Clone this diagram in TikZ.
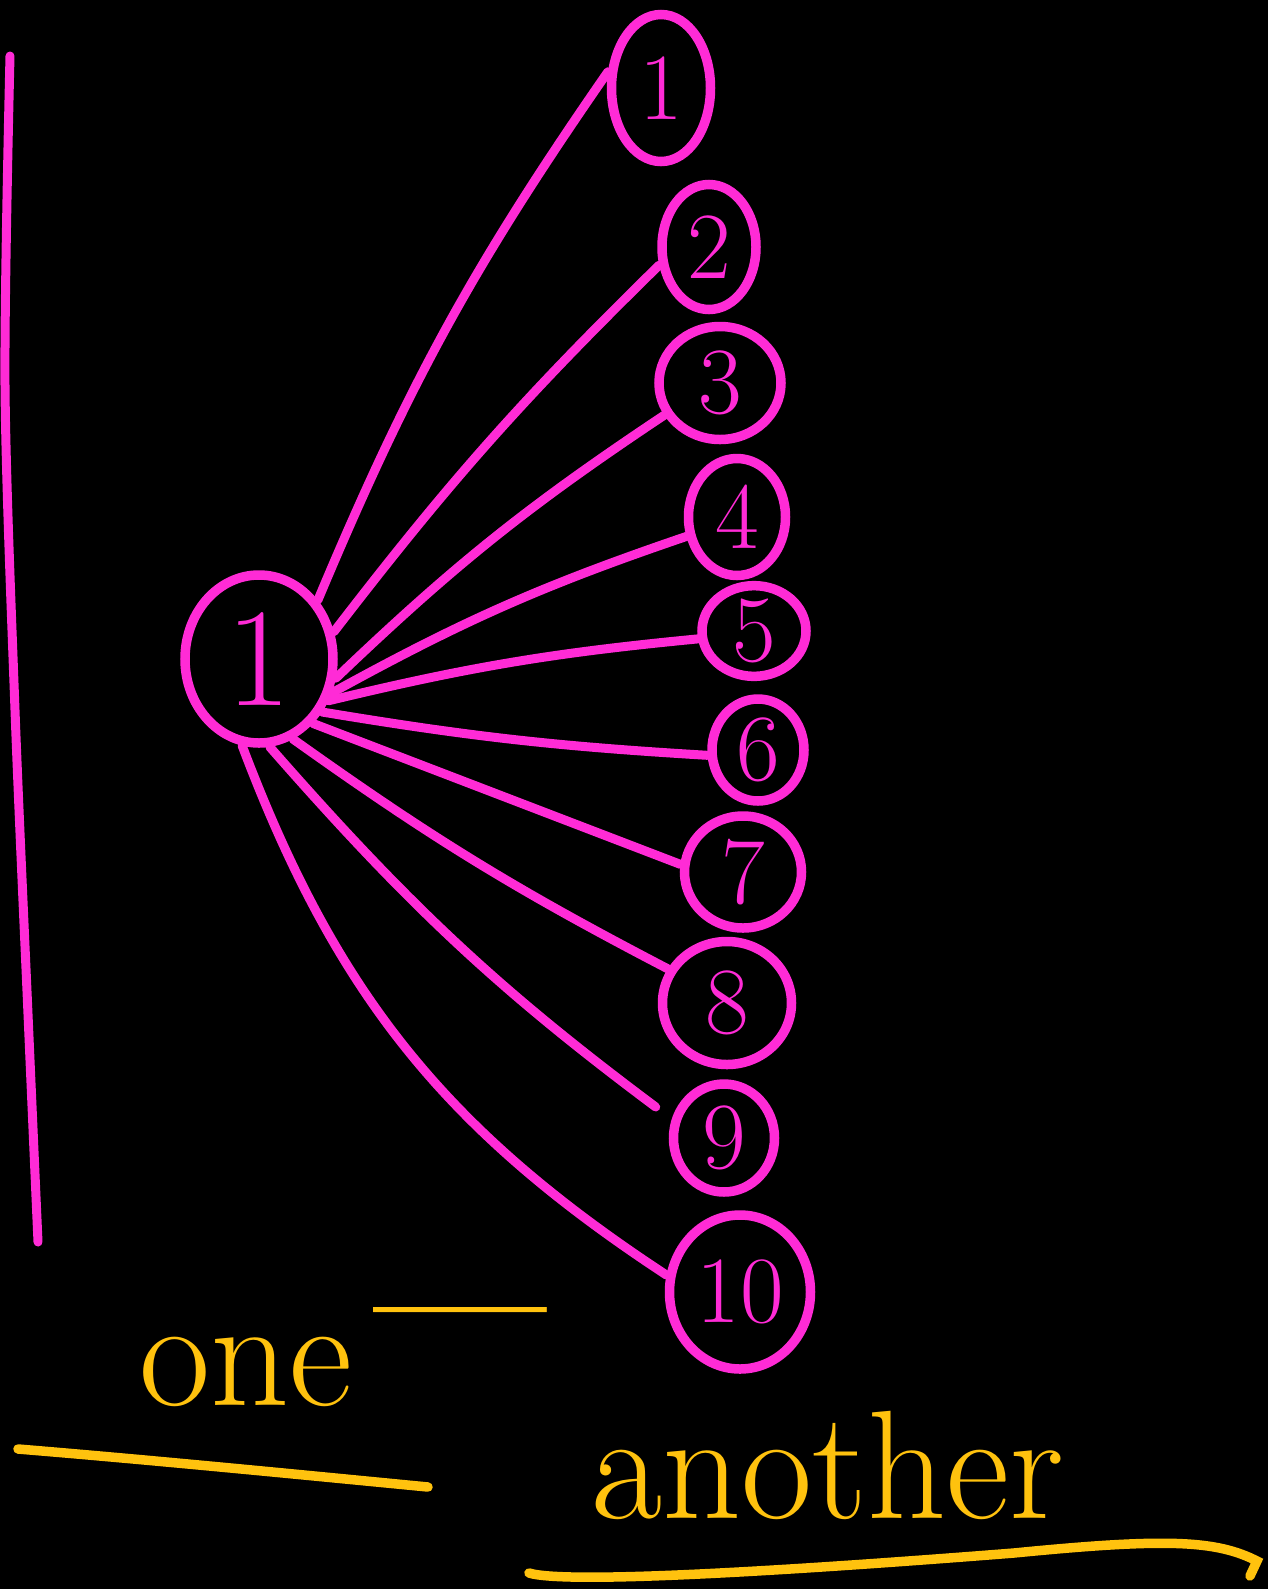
\documentclass[tikz,border=0pt]{standalone}
\usepackage{fontspec}
\usepackage{tikz}
\usetikzlibrary{positioning,shapes.geometric,calc,backgrounds}
\definecolor{InkPink}{HTML}{FF2BD6}
\definecolor{InkGold}{HTML}{FFC20E}

\begin{document}
\begin{tikzpicture}[
  x=0.2mm, y=-0.2mm,
  hub/.style={draw=InkPink, ellipse, line width=1.9mm, text=InkPink, inner sep=0pt, font=\fontsize{80}{80}\selectfont},
  leaf/.style={draw=InkPink, ellipse, line width=1.9mm, text=InkPink, inner sep=0pt, font=\fontsize{54}{54}\selectfont},
  link/.style={draw=InkPink, line width=1.8mm, line cap=round},
  scribble/.style={text=InkGold, anchor=base, inner sep=0pt, font=\fontsize{88}{88}\selectfont},
  uline/.style={draw=InkGold, line width=1.9mm, line cap=round}]
\fill[black] (0,0) rectangle (1268,1589);
\useasboundingbox (0,0) rectangle (1268,1589);
% left bar
\draw[link] plot[smooth] coordinates {(10,56) (5,385) (15,710) (28,1014) (38,1242)};
% hub and leaves
\node[hub, minimum width=29.6mm, minimum height=33.6mm] (c) at (259,659) {1};
\node[leaf, minimum width=19.8mm, minimum height=29.4mm] (n1) at (661,88) {1};
\node[leaf, minimum width=18.8mm, minimum height=25.0mm] (n2) at (709,247) {2};
\node[leaf, minimum width=24.4mm, minimum height=22.6mm] (n3) at (720,383) {3};
\node[leaf, minimum width=19.4mm, minimum height=23.4mm] (n4) at (737,517) {4};
\node[leaf, minimum width=20.8mm, minimum height=16.8mm] (n5) at (754,631) {5};
\node[leaf, minimum width=18.4mm, minimum height=20.4mm] (n6) at (758,750) {6};
\node[leaf, minimum width=23.4mm, minimum height=22.4mm] (n7) at (743,872) {7};
\node[leaf, minimum width=25.8mm, minimum height=24.6mm] (n8) at (727,1003) {8};
\node[leaf, minimum width=20.2mm, minimum height=21.6mm] (n9) at (724,1138) {9};
\node[leaf, minimum width=28.2mm, minimum height=30.8mm] (n10) at (740,1292) {10};
% fan of links
\draw[link] (c.45) to[bend left=6] (n1.163);
\draw[link] (c.20) to[bend left=4] (n2.200);
\draw[link] (c.-14) to[bend left=5] (n3.210);
\draw[link] (c.-25) to[bend left=5] (n4.201);
\draw[link] (c.-31) to[bend left=4] (n5.188);
\draw[link] (c.-40) to[bend right=3] (n6.186);
\draw[link] (c.-50) to (n7.173);
\draw[link] (c.-67) to[bend right=4] (n8.150);
\draw[link, shorten >=4mm] (c.-83) to[bend right=6] (n9.160);
\draw[link] (c.-101) to[bend right=18] (n10.167);
% words
\node[scribble] (one) at (246,1405) {one};
\node[scribble] (dash) at (460,1352) {\bfseries ---};
\node[scribble] (another) at (828,1518) {another};
\coordinate (u1a) at (18,1449);
\coordinate (u1b) at (428,1487);
\draw[uline] (u1a) .. controls (152,1460) and (304,1475) .. (u1b);
\coordinate (u2a) at (529,1573);
\coordinate (u2b) at (1250,1576);
\draw[uline] (u2a) .. controls (568,1585) and (811,1569) .. (1014,1553)
  .. controls (1166,1538) and (1216,1540) .. (1257,1561) -- (u2b);
\end{tikzpicture}
\end{document}
